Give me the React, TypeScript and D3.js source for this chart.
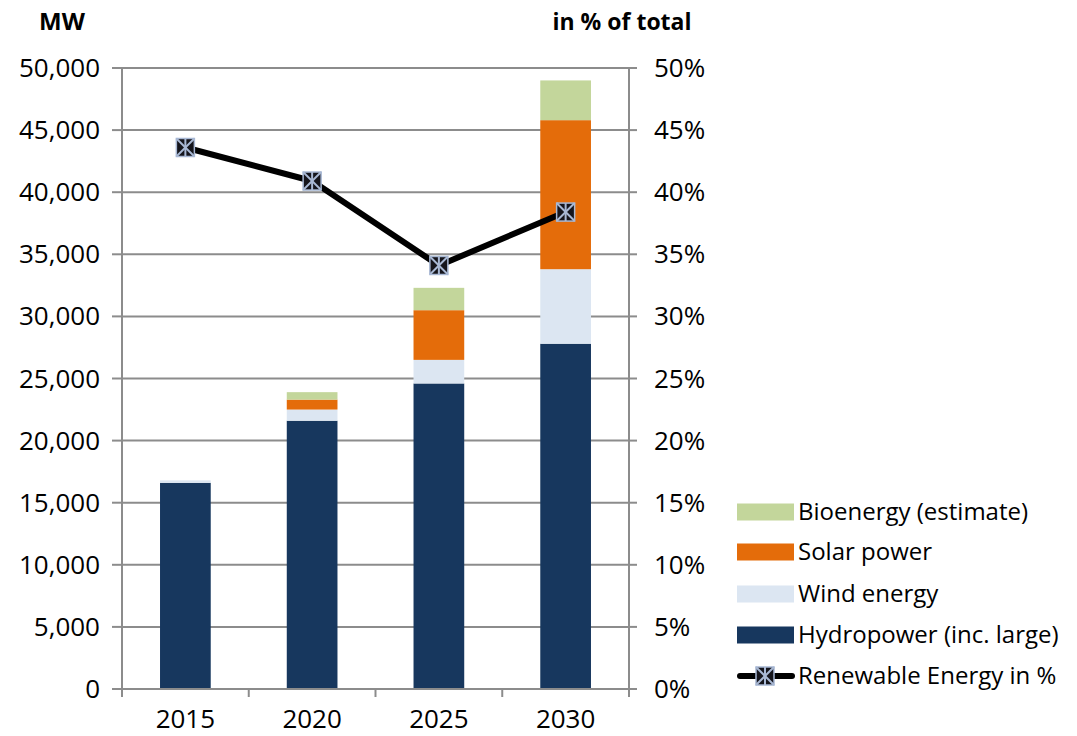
import { useEffect, useRef } from 'react'
import * as d3 from 'd3'

const years = ['2015', '2020', '2025', '2030']
const hydropower = [16600, 21600, 24600, 27800]
const windEnergy = [200, 900, 1900, 6000]
const solarPower = [0, 800, 4000, 12000]
const bioenergy = [0, 600, 1800, 3200]
const renewableShare = [43.6, 40.9, 34.1, 38.4]
const leftTicks = [0, 5000, 10000, 15000, 20000, 25000, 30000, 35000, 40000, 45000, 50000]
const rightTicks = [0, 5, 10, 15, 20, 25, 30, 35, 40, 45, 50]

const seriesNames = ['Hydropower (inc. large)', 'Wind energy', 'Solar power', 'Bioenergy (estimate)']
const seriesColors = ['#17375e', '#dce6f2', '#e46c0a', '#c3d69b']

const width = 1077
const height = 736
const font = 'Open Sans, sans-serif'

export default function App() {
  const svgRef = useRef<SVGSVGElement>(null)

  useEffect(() => {
    if (!svgRef.current) return
    const svg = d3.select(svgRef.current)
    svg.selectAll('*').remove()

    const left = 122
    const right = 629
    const top = 68
    const bottom = 689

    const x = d3.scaleBand().domain(years).range([left, right]).paddingInner(0.6).paddingOuter(0.3)
    const y = d3.scaleLinear().domain([0, 50000]).range([bottom, top])
    const y2 = d3.scaleLinear().domain([0, 50]).range([bottom, top])

    const grey = '#8c8c8c'

    // gridlines
    svg.append('g')
      .selectAll('line')
      .data(leftTicks.filter(d => d > 0))
      .enter().append('line')
      .attr('x1', left).attr('x2', right)
      .attr('y1', d => y(d)).attr('y2', d => y(d))
      .attr('stroke', grey).attr('stroke-width', 2)

    // stacked bars
    const rows = years.map((yr, i) => ({
      year: yr,
      hydro: hydropower[i],
      wind: windEnergy[i],
      solar: solarPower[i],
      bio: bioenergy[i],
    }))
    const stack = d3.stack<any>().keys(['hydro', 'wind', 'solar', 'bio'])
    const layers = stack(rows)

    svg.append('g')
      .selectAll('g')
      .data(layers)
      .enter().append('g')
      .attr('fill', (_d, i) => seriesColors[i])
      .selectAll('rect')
      .data(d => d)
      .enter().append('rect')
      .attr('x', d => x(d.data.year) || 0)
      .attr('width', x.bandwidth())
      .attr('y', d => y(d[1]))
      .attr('height', d => y(d[0]) - y(d[1]))

    // left axis
    const leftAxis = svg.append('g')
    leftAxis.append('line')
      .attr('x1', left).attr('x2', left).attr('y1', top).attr('y2', bottom)
      .attr('stroke', grey).attr('stroke-width', 2)
    leftAxis.selectAll('.tick')
      .data(leftTicks)
      .enter().append('line')
      .attr('x1', left - 10).attr('x2', left)
      .attr('y1', d => y(d)).attr('y2', d => y(d))
      .attr('stroke', grey).attr('stroke-width', 2)
    leftAxis.selectAll('text')
      .data(leftTicks)
      .enter().append('text')
      .attr('x', 100).attr('y', d => y(d) + 9)
      .attr('text-anchor', 'end')
      .style('font-family', font).style('font-size', '26px')
      .text(d => d3.format(',')(d))

    // right axis
    const rightAxis = svg.append('g')
    rightAxis.append('line')
      .attr('x1', right).attr('x2', right).attr('y1', top).attr('y2', bottom)
      .attr('stroke', grey).attr('stroke-width', 2)
    rightAxis.selectAll('.tick')
      .data(rightTicks)
      .enter().append('line')
      .attr('x1', right).attr('x2', right + 8)
      .attr('y1', d => y2(d)).attr('y2', d => y2(d))
      .attr('stroke', grey).attr('stroke-width', 2)
    rightAxis.selectAll('text')
      .data(rightTicks)
      .enter().append('text')
      .attr('x', 654).attr('y', d => y2(d) + 9)
      .style('font-family', font).style('font-size', '26px')
      .text(d => d + '%')

    // bottom axis
    const bottomAxis = svg.append('g')
    bottomAxis.append('line')
      .attr('x1', left - 10).attr('x2', right).attr('y1', bottom).attr('y2', bottom)
      .attr('stroke', grey).attr('stroke-width', 2)
    const step = (right - left) / years.length
    bottomAxis.selectAll('.tick')
      .data(d3.range(years.length + 1))
      .enter().append('line')
      .attr('x1', i => left + i * step).attr('x2', i => left + i * step)
      .attr('y1', bottom).attr('y2', bottom + 8)
      .attr('stroke', grey).attr('stroke-width', 2)
    bottomAxis.selectAll('text')
      .data(years)
      .enter().append('text')
      .attr('x', d => (x(d) || 0) + x.bandwidth() / 2)
      .attr('y', 728)
      .attr('text-anchor', 'middle')
      .style('font-family', font).style('font-size', '26px')
      .text(d => d)

    // axis titles
    svg.append('text')
      .attr('x', 62).attr('y', 30)
      .attr('text-anchor', 'middle')
      .style('font-family', font).style('font-size', '24px').style('font-weight', 'bold')
      .text('MW')
    svg.append('text')
      .attr('x', 622).attr('y', 30)
      .attr('text-anchor', 'middle')
      .style('font-family', font).style('font-size', '23px').style('font-weight', 'bold')
      .text('in % of total')

    // marker helper
    const drawMarker = (g: any, cx: number, cy: number) => {
      const s = 9
      const m = g.append('g').attr('transform', `translate(${cx},${cy})`)
      m.append('rect')
        .attr('x', -s).attr('y', -s).attr('width', 2 * s).attr('height', 2 * s)
        .attr('fill', '#15151c').attr('stroke', '#a8b8d4').attr('stroke-width', 1.5)
      const star = '#a8b8d4'
      m.append('line').attr('x1', -s).attr('y1', -s).attr('x2', s).attr('y2', s)
        .attr('stroke', star).attr('stroke-width', 2)
      m.append('line').attr('x1', -s).attr('y1', s).attr('x2', s).attr('y2', -s)
        .attr('stroke', star).attr('stroke-width', 2)
      m.append('line').attr('x1', 0).attr('y1', -s).attr('x2', 0).attr('y2', s)
        .attr('stroke', star).attr('stroke-width', 2)
    }

    // line
    const line = d3.line<number>()
      .x((_d, i) => (x(years[i]) || 0) + x.bandwidth() / 2)
      .y(d => y2(d))
    svg.append('path')
      .datum(renewableShare)
      .attr('d', line)
      .attr('fill', 'none')
      .attr('stroke', '#000')
      .attr('stroke-width', 6)
      .attr('stroke-linejoin', 'round')
    const markers = svg.append('g')
    renewableShare.forEach((v, i) => {
      drawMarker(markers, (x(years[i]) || 0) + x.bandwidth() / 2, y2(v))
    })

    // legend
    const legend = svg.append('g')
    const legendItems = [3, 2, 1, 0]
    const rowY = [512, 552, 594, 635]
    legendItems.forEach((si, k) => {
      legend.append('rect')
        .attr('x', 737).attr('y', rowY[k] - 8.5).attr('width', 57).attr('height', 17)
        .attr('fill', seriesColors[si])
      legend.append('text')
        .attr('x', 798).attr('y', rowY[k] + 8)
        .style('font-family', font).style('font-size', '24px')
        .text(seriesNames[si])
    })
    const ly = 676
    legend.append('line')
      .attr('x1', 740).attr('x2', 792).attr('y1', ly).attr('y2', ly)
      .attr('stroke', '#000').attr('stroke-width', 6).attr('stroke-linecap', 'round')
    drawMarker(legend, 765, ly)
    legend.append('text')
      .attr('x', 798).attr('y', ly + 8)
      .style('font-family', font).style('font-size', '24px')
      .text('Renewable Energy in %')
  }, [])

  return (
    <svg
      ref={svgRef}
      width={width}
      height={height}
      style={{ position: 'absolute', left: 0, top: 0, background: '#fff' }}
    />
  )
}
